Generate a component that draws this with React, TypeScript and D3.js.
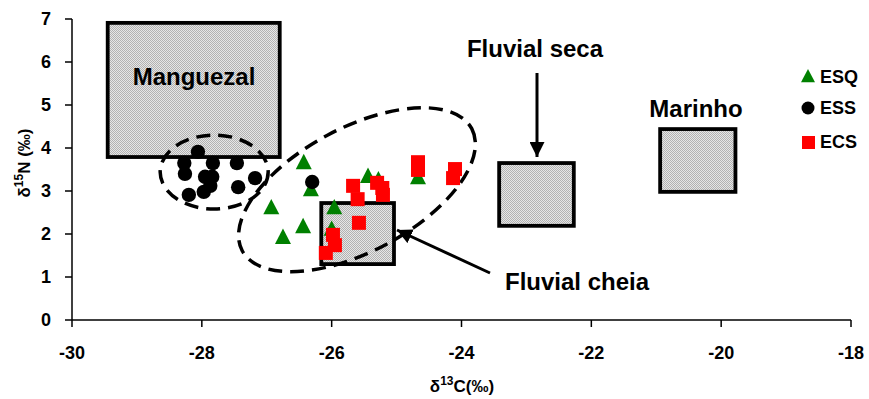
import React from "react";
import * as d3 from "d3";

const W = 869;
const H = 399;

const xTicks = [-30, -28, -26, -24, -22, -20, -18];
const yTicks = [0, 1, 2, 3, 4, 5, 6, 7];

const esqX = [-26.43, -26.32, -26.93, -26.44, -26.75, -25.96, -26.0, -25.44, -25.28, -24.67];
const esqY = [3.65, 3.02, 2.6, 2.16, 1.91, 2.6, 2.1, 3.33, 3.25, 3.3];

const essX = [-28.27, -28.06, -27.83, -27.46, -28.26, -27.95, -27.84, -27.18, -27.44, -28.2, -27.97, -27.87, -26.3];
const essY = [3.65, 3.91, 3.65, 3.65, 3.4, 3.33, 3.33, 3.3, 3.09, 2.91, 2.98, 3.12, 3.21];

const ecsX = [-25.67, -25.6, -25.3, -25.22, -25.21, -25.58, -25.98, -25.95, -26.09, -24.67, -24.67, -24.1, -24.13];
const ecsY = [3.12, 2.81, 3.19, 3.07, 2.91, 2.26, 1.98, 1.74, 1.56, 3.67, 3.49, 3.51, 3.3];

// source boxes: [x0, x1, y0, y1] in data units
const boxNames = ["Manguezal", "Fluvial cheia", "Fluvial seca", "Marinho"];
const boxX0 = [-29.45, -26.16, -23.42, -20.94];
const boxX1 = [-26.8, -25.04, -22.27, -19.78];
const boxY0 = [3.79, 1.3, 2.19, 2.98];
const boxY1 = [6.91, 2.72, 3.65, 4.44];

const legendNames = ["ESQ", "ESS", "ECS"];

const FONT = "'Liberation Sans', Arial, sans-serif";

export default function App() {
  const x = d3.scaleLinear().domain([-30, -18]).range([72, 851]);
  const y = d3.scaleLinear().domain([0, 7]).range([320, 19]);

  // ellipse annotations (centres in data units)
  const e1cx = x(-27.81), e1cy = y(3.44);
  const e2cx = x(-25.61), e2cy = y(3.03);

  const triPath = (s: number) => `M0,${-s * 0.58}L${s / 2},${s * 0.38}L${-s / 2},${s * 0.38}Z`;

  return (
    <div style={{ position: "absolute", left: 0, top: 0 }}>
      <svg width={W} height={H} style={{ display: "block", background: "#fff" }} fontFamily={FONT}>
        <defs>
          <pattern id="dots" width="2" height="2" patternUnits="userSpaceOnUse">
            <rect width="2" height="2" fill="#e6e6e6" />
            <rect x="0" y="0" width="1" height="1" fill="#b2b2b2" />
            <rect x="1" y="1" width="1" height="1" fill="#b2b2b2" />
          </pattern>
          <marker id="ah" viewBox="0 0 10 10" refX="10" refY="5" markerWidth="5" markerHeight="5" orient="auto" markerUnits="strokeWidth">
            <path d="M0,0L10,5L0,10Z" fill="#000" />
          </marker>
        </defs>

        {/* boxes */}
        {boxNames.map((n, i) => (
          <rect
            key={n}
            x={x(boxX0[i])}
            y={y(boxY1[i])}
            width={x(boxX1[i]) - x(boxX0[i])}
            height={y(boxY0[i]) - y(boxY1[i])}
            fill="url(#dots)"
            stroke="#000"
            strokeWidth={3.8}
          />
        ))}

        {/* dashed ellipses */}
        <ellipse cx={e1cx} cy={e1cy} rx={54} ry={37} fill="none" stroke="#000" strokeWidth={3.5} strokeDasharray="14 8" />
        <ellipse
          cx={e2cx}
          cy={e2cy}
          rx={130}
          ry={62}
          transform={`rotate(-28 ${e2cx} ${e2cy})`}
          fill="none"
          stroke="#000"
          strokeWidth={3.5}
          strokeDasharray="14 8"
        />

        {/* arrows */}
        <line x1={537} y1={73} x2={537} y2={157} stroke="#000" strokeWidth={3} markerEnd="url(#ah)" />
        <line x1={490} y1={273} x2={397} y2={230} stroke="#000" strokeWidth={3} markerEnd="url(#ah)" />

        {/* axes */}
        <line x1={72} y1={y(7)} x2={72} y2={320} stroke="#000" strokeWidth={1.5} />
        <line x1={72} y1={320} x2={851} y2={320} stroke="#000" strokeWidth={1.5} />
        {yTicks.map((t) => (
          <g key={"y" + t}>
            <line x1={65} x2={72} y1={y(t)} y2={y(t)} stroke="#000" strokeWidth={1.5} />
            <text x={51} y={y(t)} dy="0.36em" textAnchor="end" fontSize={18} fontWeight="bold">
              {t}
            </text>
          </g>
        ))}
        {xTicks.map((t) => (
          <g key={"x" + t}>
            <line x1={x(t)} x2={x(t)} y1={320} y2={327} stroke="#000" strokeWidth={1.5} />
            <text x={x(t)} y={359} textAnchor="middle" fontSize={18} fontWeight="bold">
              {t}
            </text>
          </g>
        ))}

        {/* axis titles */}
        <text x={462} y={392} textAnchor="middle" fontSize={17} fontWeight="bold">
          δ<tspan dy={-7} fontSize={12}>13</tspan>
          <tspan dy={7}>C(‰)</tspan>
        </text>
        <text transform="translate(30,163) rotate(-90)" textAnchor="middle" fontSize={17} fontWeight="bold">
          δ<tspan dy={-7} fontSize={12}>15</tspan>
          <tspan dy={7}>N (‰)</tspan>
        </text>

        {/* points */}
        {esqX.map((v, i) => (
          <path key={"q" + i} d={triPath(16)} transform={`translate(${x(v)},${y(esqY[i])})`} fill="#008000" />
        ))}
        {essX.map((v, i) => (
          <circle key={"s" + i} cx={x(v)} cy={y(essY[i])} r={7.2} fill="#000" />
        ))}
        {ecsX.map((v, i) => (
          <rect key={"c" + i} x={x(v) - 7} y={y(ecsY[i]) - 7} width={14} height={14} fill="#ff0000" />
        ))}

        {/* box labels */}
        <text x={194} y={85} textAnchor="middle" fontSize={24} fontWeight="bold">Manguezal</text>
        <text x={535} y={57} textAnchor="middle" fontSize={24} fontWeight="bold">Fluvial seca</text>
        <text x={696} y={117} textAnchor="middle" fontSize={24} fontWeight="bold">Marinho</text>
        <text x={577} y={290} textAnchor="middle" fontSize={24} fontWeight="bold">Fluvial cheia</text>

        {/* legend */}
        <path d={triPath(14)} transform="translate(808,77)" fill="#008000" />
        <circle cx={808} cy={108} r={6.5} fill="#000" />
        <rect x={802} y={136} width={13} height={13} fill="#ff0000" />
        {legendNames.map((n, i) => (
          <text key={n} x={820} y={[77, 108, 142][i]} dy="0.36em" fontSize={18} fontWeight="bold">
            {n}
          </text>
        ))}
      </svg>
    </div>
  );
}
